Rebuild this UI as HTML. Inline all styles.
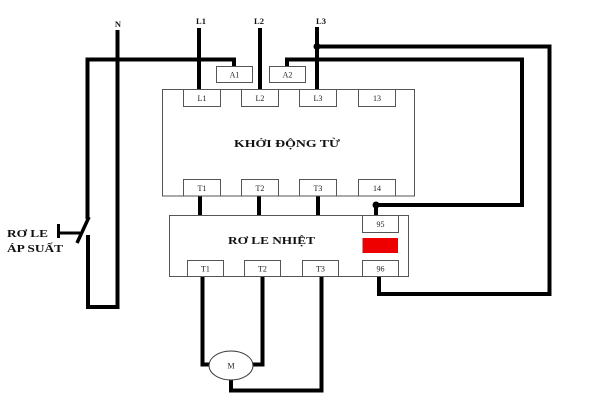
<!DOCTYPE html>
<html>
<head>
<meta charset="utf-8">
<style>
html,body{margin:0;padding:0;background:#fff;}
svg{display:block;}
</style>
</head>
<body>
<svg width="600" height="400" viewBox="0 0 600 400" xmlns="http://www.w3.org/2000/svg">
<rect width="600" height="400" fill="#fff"/>

<!-- wires -->
<g stroke="#000" stroke-width="4" fill="none" stroke-linejoin="miter">
  <!-- N -->
  <line x1="117.5" y1="30" x2="117.5" y2="309"/>
  <!-- left control circuit -->
  <polyline points="234,66 234,59.5 87.5,59.5 87.5,219"/>
  <line x1="89" y1="217" x2="77" y2="243" stroke-width="3.5"/>
  <polyline points="88,235 88,307 119.5,307"/>
  <!-- phases -->
  <line x1="199" y1="28" x2="199" y2="90"/>
  <line x1="260" y1="28" x2="260" y2="90"/>
  <line x1="317" y1="27" x2="317" y2="90"/>
  <!-- outer loop from L3 to 96 -->
  <polyline points="317,46.5 549.5,46.5 549.5,294 379,294 379,277"/>
  <!-- A2 to 95 -->
  <polyline points="287,66 287,59.5 522,59.5 522,205 376,205 376,215"/>
  <!-- contactor to thermal relay -->
  <line x1="200" y1="196" x2="200" y2="215"/>
  <line x1="259" y1="196" x2="259" y2="215"/>
  <line x1="318" y1="196" x2="318" y2="215"/>
  <!-- motor wiring -->
  <polyline points="202.5,276 202.5,364.5 211,364.5"/>
  <polyline points="262.5,276 262.5,364.5 252,364.5"/>
  <polyline points="231,379 231,390.5 321.5,390.5 321.5,276"/>
</g>
<circle cx="317" cy="46.5" r="3.5" fill="#000"/>
<circle cx="376" cy="205" r="3.5" fill="#000"/>

<!-- pressure switch actuator -->
<rect x="57" y="224" width="3" height="14" fill="#000"/>
<line x1="59" y1="233" x2="80" y2="233" stroke="#000" stroke-width="3"/>

<!-- boxes -->
<g stroke="#555" stroke-width="1" fill="#fff">
  <rect x="162.5" y="89.5" width="252" height="106.5"/>
  <rect x="216.5" y="66.5" width="36" height="16"/>
  <rect x="269.5" y="66.5" width="36" height="16"/>
  <rect x="183.5" y="89.5" width="37" height="17"/>
  <rect x="241.5" y="89.5" width="37" height="17"/>
  <rect x="299.5" y="89.5" width="37" height="17"/>
  <rect x="358.5" y="89.5" width="37" height="17"/>
  <rect x="183.5" y="179.5" width="37" height="16.5"/>
  <rect x="241.5" y="179.5" width="37" height="16.5"/>
  <rect x="299.5" y="179.5" width="37" height="16.5"/>
  <rect x="358.5" y="179.5" width="37" height="16.5"/>

  <rect x="169.5" y="215.5" width="239" height="61"/>
  <rect x="362.5" y="215.5" width="36" height="17"/>
  <rect x="362.5" y="260.5" width="36" height="16"/>
  <rect x="187.5" y="260.5" width="36" height="16"/>
  <rect x="244.5" y="260.5" width="36" height="16"/>
  <rect x="302.5" y="260.5" width="36" height="16"/>
</g>
<rect x="362.5" y="238" width="35.5" height="15" fill="#ee0000"/>
<ellipse cx="231" cy="365.5" rx="22" ry="14.5" fill="#fff" stroke="#333" stroke-width="1"/>

<!-- labels -->
<g font-family="'Liberation Serif', serif" font-weight="bold" fill="#111" text-anchor="middle" font-size="8.5">
  <text x="118" y="27">N</text>
  <text x="201" y="24">L1</text>
  <text x="259" y="24">L2</text>
  <text x="321" y="24">L3</text>
</g>
<g font-family="'Liberation Serif', serif" font-weight="bold" fill="#111">
  <text x="234" y="147" font-size="11" textLength="106" lengthAdjust="spacingAndGlyphs">KHỞI ĐỘNG TỪ</text>
  <text x="228" y="244" font-size="11" textLength="87" lengthAdjust="spacingAndGlyphs">RƠ LE NHIỆT</text>
  <text x="7" y="237" font-size="10" textLength="41" lengthAdjust="spacingAndGlyphs">RƠ LE</text>
  <text x="7" y="252" font-size="10" textLength="56" lengthAdjust="spacingAndGlyphs">ÁP SUẤT</text>
</g>
<g font-family="'Liberation Serif', serif" fill="#222" text-anchor="middle" font-size="8">
  <text x="234.5" y="77.5">A1</text>
  <text x="287.5" y="77.5">A2</text>
  <text x="202" y="101">L1</text>
  <text x="260" y="101">L2</text>
  <text x="318" y="101">L3</text>
  <text x="377" y="101">13</text>
  <text x="202" y="191">T1</text>
  <text x="260" y="191">T2</text>
  <text x="318" y="191">T3</text>
  <text x="377" y="191">14</text>
  <text x="380.5" y="227">95</text>
  <text x="380.5" y="271.5">96</text>
  <text x="205.5" y="271.5">T1</text>
  <text x="262.5" y="271.5">T2</text>
  <text x="320.5" y="271.5">T3</text>
  <text x="231" y="368.5">M</text>
</g>
</svg>
</body>
</html>
